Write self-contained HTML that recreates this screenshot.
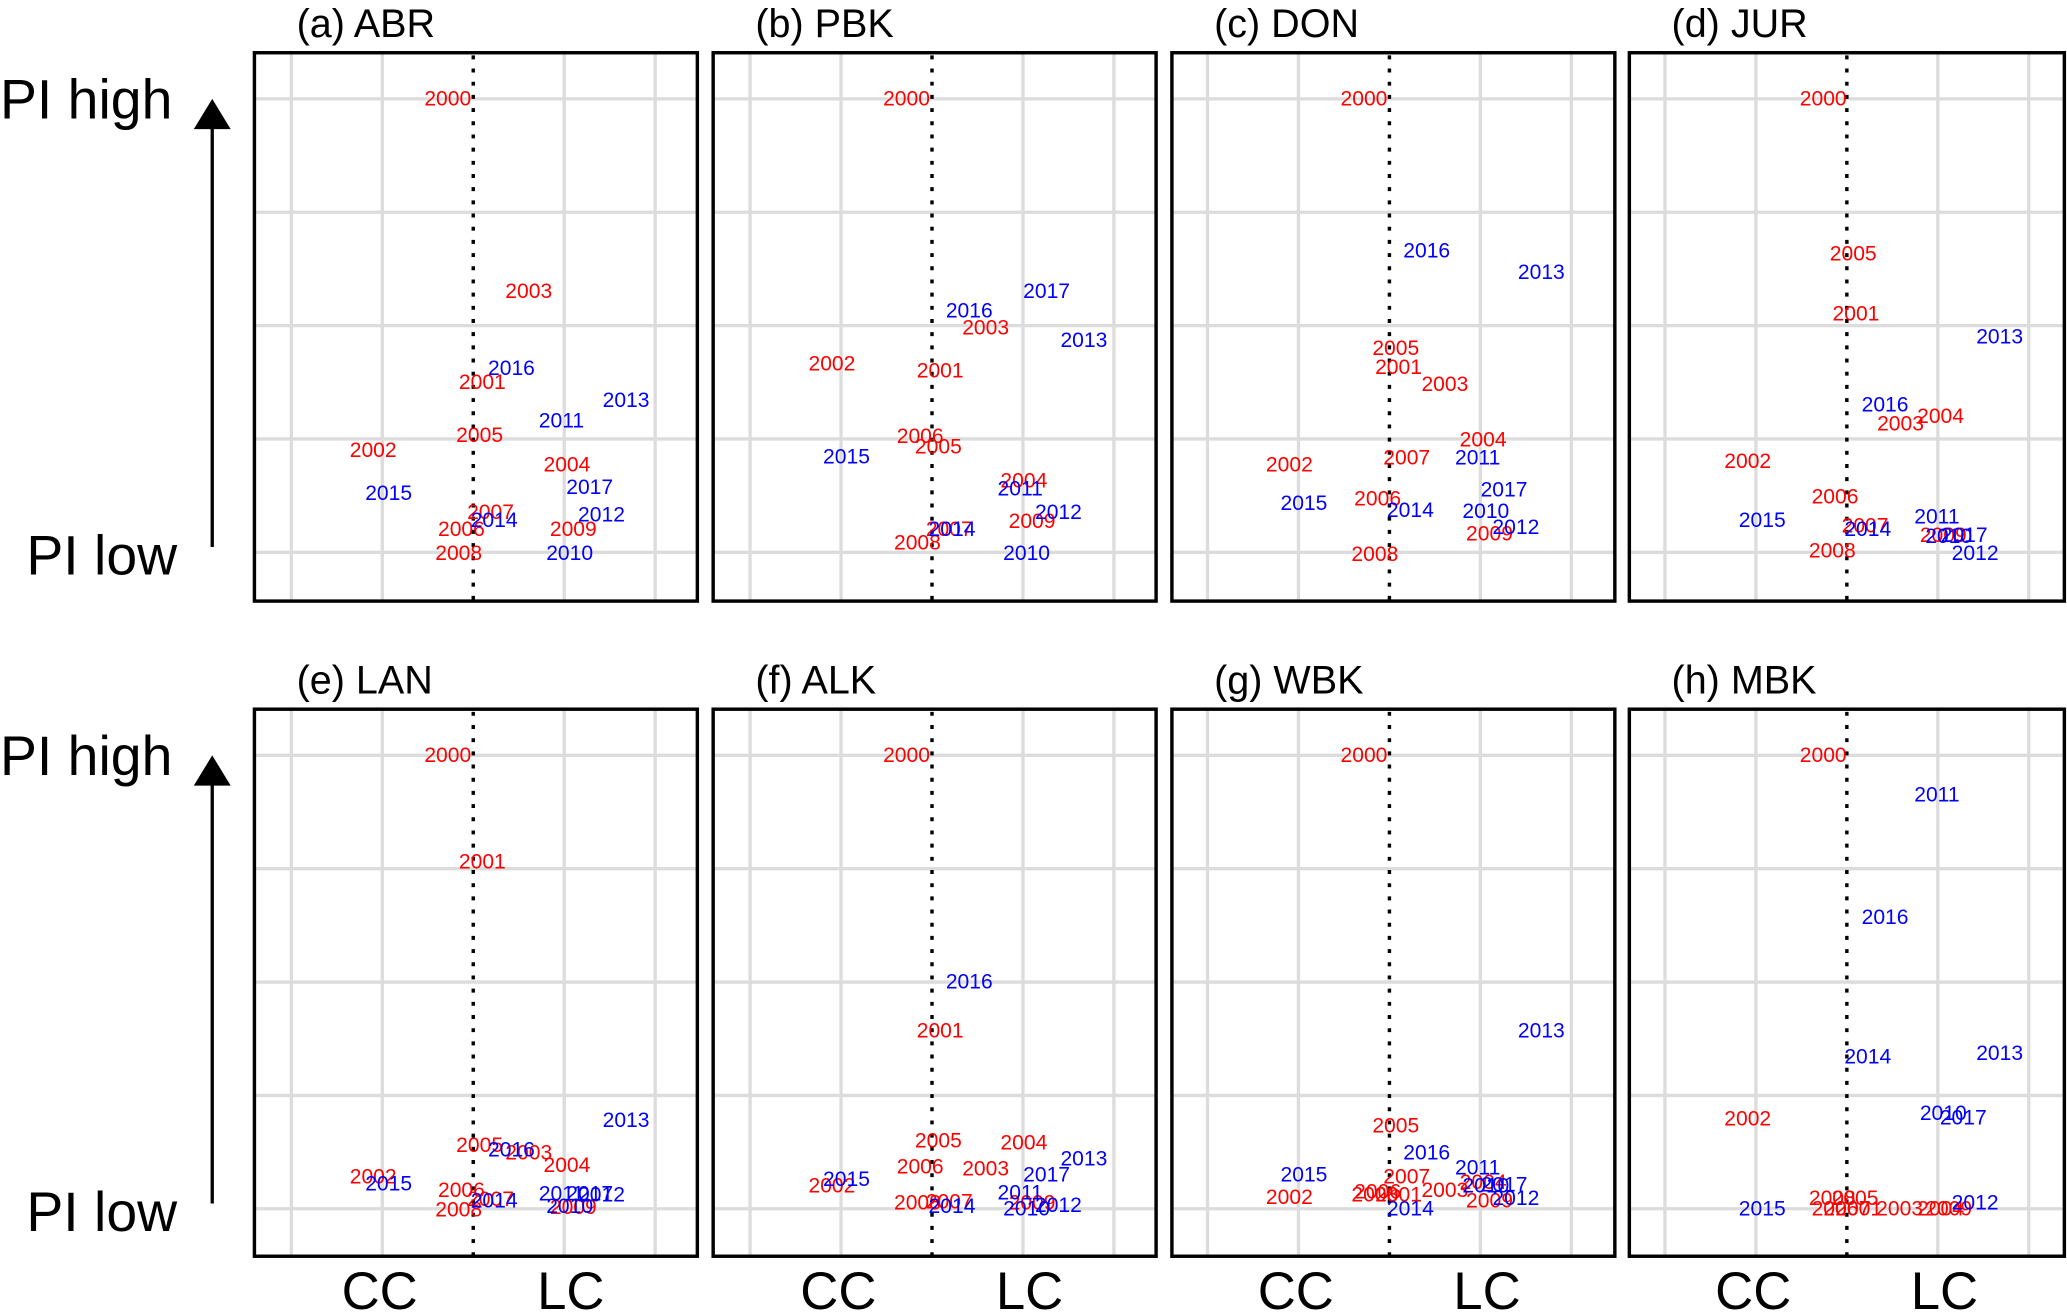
<!DOCTYPE html>
<html><head><meta charset="utf-8"><style>html,body{margin:0;padding:0;background:#fff}svg{display:block}</style></head>
<body>
<svg id="chart" width="2067" height="1312" viewBox="0 0 1568 995.3" preserveAspectRatio="none" xmlns="http://www.w3.org/2000/svg" font-family="Liberation Sans, Arial, sans-serif"></svg>
<script>
const panelTitles = ["(a) ABR","(b) PBK","(c) DON","(d) JUR","(e) LAN","(f) ALK","(g) WBK","(h) MBK"];
const years = [2000,2001,2002,2003,2004,2005,2006,2007,2008,2009,2010,2011,2012,2013,2014,2015,2016,2017];
// x (CC<0<LC) and y (PI) per panel, in year order 2000..2017
const xA=[-0.28,0.10,-1.10,0.61,1.03,0.07,-0.13,0.19,-0.16,1.10,1.06,0.97,1.41,1.68,0.23,-0.93,0.42,1.28];
const yA=[4.0,1.50,0.90,2.30,0.77,1.03,0.20,0.35,-0.01,0.20,-0.01,1.16,0.33,1.34,0.28,0.52,1.62,0.57];
const xB=[-0.28,0.09,-1.10,0.59,1.01,0.07,-0.13,0.19,-0.16,1.10,1.04,0.97,1.39,1.67,0.22,-0.94,0.41,1.26];
const yB=[4.0,1.60,1.66,1.98,0.63,0.93,1.02,0.20,0.08,0.27,-0.01,0.56,0.35,1.87,0.20,0.84,2.13,2.30];
const xC=[-0.28,0.10,-1.10,0.61,1.03,0.07,-0.13,0.19,-0.16,1.10,1.06,0.97,1.39,1.67,0.23,-0.94,0.41,1.26];
const yC=[4.0,1.63,0.77,1.48,0.99,1.80,0.47,0.83,-0.02,0.16,0.36,0.83,0.22,2.47,0.37,0.43,2.66,0.55];
const xD=[-0.26,0.10,-1.09,0.59,1.03,0.07,-0.13,0.20,-0.16,1.06,1.12,0.99,1.41,1.68,0.23,-0.93,0.42,1.29];
const yD=[4.0,2.10,0.80,1.13,1.20,2.63,0.49,0.23,0.01,0.15,0.14,0.31,-0.01,1.90,0.20,0.28,1.30,0.15];
const xE=[-0.28,0.10,-1.10,0.61,1.03,0.07,-0.13,0.19,-0.16,1.10,1.06,0.97,1.41,1.68,0.23,-0.93,0.42,1.28];
const yE=[4.0,3.06,0.28,0.49,0.38,0.56,0.16,0.08,-0.01,0.01,0.02,0.13,0.12,0.78,0.07,0.22,0.52,0.13];
const xF=[-0.28,0.09,-1.10,0.59,1.01,0.07,-0.13,0.19,-0.16,1.10,1.04,0.97,1.39,1.67,0.22,-0.94,0.41,1.26];
const yF=[4.0,1.57,0.20,0.35,0.58,0.60,0.37,0.06,0.05,0.05,0.0,0.14,0.03,0.44,0.02,0.26,2.00,0.30];
const xG=[-0.28,0.10,-1.10,0.61,1.03,0.07,-0.13,0.19,-0.16,1.10,1.06,0.97,1.39,1.67,0.23,-0.94,0.41,1.26];
const yG=[4.0,0.12,0.10,0.16,0.23,0.73,0.15,0.28,0.12,0.07,0.20,0.36,0.09,1.57,0.0,0.30,0.49,0.21];
const xH=[-0.26,0.13,-1.09,0.58,1.03,0.09,-0.13,0.0,-0.16,1.12,1.06,0.99,1.41,1.68,0.23,-0.93,0.42,1.28];
const yH=[4.0,0.0,0.79,0.0,0.0,0.09,0.0,0.0,0.09,0.0,0.84,3.65,0.05,1.37,1.34,0.0,2.57,0.80];
const xs=[xA,xB,xC,xD,xE,xF,xG,xH], ys=[yA,yB,yC,yD,yE,yF,yG,yH];

const NS="http://www.w3.org/2000/svg", svg=document.getElementById('chart');
function mk(tag, attrs, parent){const e=document.createElementNS(NS,tag);for(const k in attrs)e.setAttribute(k,attrs[k]);(parent||svg).appendChild(e);return e;}
const lefts=[193,541,889,1236], centers=[359,707,1054,1401];
for(let p=0;p<8;p++){
  const col=p%4, row=Math.floor(p/4);
  const left=lefts[col], c=centers[col];
  const top=row?538:40, bot=row?953:456, base=row?917:419;
  const w = col===3?330:336;
  const xS=v=>c+v*69, yS=v=>base-v*86;
  const g=mk('g',{});
  
  
  for(const gx of [-2,-1,1,2]){const l=mk('line',{x1:xS(gx),x2:xS(gx),y1:top,y2:bot,stroke:'#dcdcdc','stroke-width':2.5},g);
    }
  for(let k=0;k<=4;k++){const l=mk('line',{x1:left,x2:left+w,y1:yS(k),y2:yS(k),stroke:'#dcdcdc','stroke-width':2.5},g);
    }
  const d=mk('line',{x1:xS(0),x2:xS(0),y1:top+2,y2:bot,stroke:'#000','stroke-width':2.6,'stroke-dasharray':'3,7'},g);
  
  for(let i=0;i<years.length;i++){
    const t=mk('text',{x:xS(xs[p][i]),y:yS(ys[p][i]),'text-anchor':'middle','dominant-baseline':'central','font-size':16,fill:years[i]<2010?'#ff0000':'#0000ff'},g);
    t.textContent=years[i];
    
    
  }
  const b=mk('rect',{x:left,y:top,width:w,height:bot-top,fill:'none',stroke:'#000','stroke-width':2.6},g);
  
  const tt=mk('text',{x:left+32,y:top-12,'font-size':30,fill:'#000'},g);
  tt.textContent=panelTitles[p];
  
  if(row===1){
    for(const [lab,cx] of [['CC',c-71],['LC',c+74]]){
      const a=mk('text',{x:cx,y:993,'text-anchor':'middle','font-size':40,fill:'#000'});
      a.textContent=lab;
      
    }
  }
}
for(const r of [0,1]){
  const off=r?498:0;
  const h=mk('text',{x:0,y:90+off,'font-size':42,fill:'#000'});h.textContent='PI high';
  
  const l=mk('text',{x:20,y:436+off,'font-size':42,fill:'#000'});l.textContent='PI low';
  
  const ln=mk('line',{x1:161,x2:161,y1:415+off,y2:96+off,stroke:'#000','stroke-width':2.5});
  
  const ah=mk('polygon',{points:`147,98${''} `.replace('98',98+off)+` 175,${98+off} 161,${75+off}`,fill:'#000'});
  
}
</script>
</body></html>
